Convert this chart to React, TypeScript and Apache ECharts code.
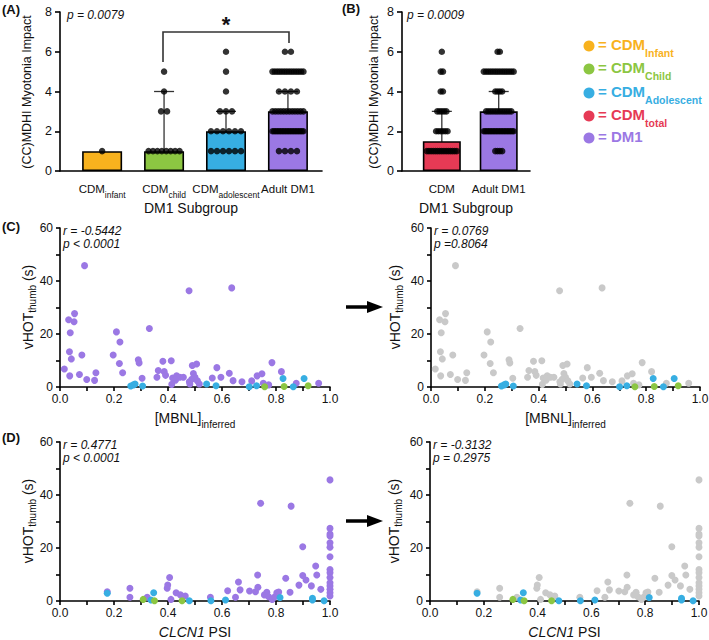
import React, { useEffect, useRef } from "react";
import * as echarts from "echarts";

const FONT = "'Liberation Sans', Arial, Helvetica, sans-serif";

const colInfant = "#F8B21E";
const colChild = "#8CC642";
const colAdol = "#37AEE2";
const colTotal = "#E63A55";
const colDM1 = "#9B78E4";
const colGray = "#C9C9C9";

// Panel A
const subgroupMain = ["CDM", "CDM", "CDM", "Adult DM1"];
const subgroupSub = ["infant", "child", "adolescent", ""];
const subgroupBars = [1, 1, 2, 3];
const subgroupErrLow = [1, 1, 1, 2];
const subgroupErrHigh = [1, 4, 3, 4];
const subgroupColors = [colInfant, colChild, colAdol, colDM1];
const infantScores = [1];
const childScores = [1, 1, 1, 1, 1, 1, 1, 1, 3, 3, 4, 5];
const adolescentScores = [1, 1, 1, 1, 1, 1, 2, 2, 2, 2, 2, 2, 3, 3, 3, 4, 5, 6];
const adultScores = [
  1, 1, 1, 1,
  2, 2, 2, 2, 2, 2, 2, 2, 2, 2, 2, 2, 2, 2, 2, 2, 2, 2, 2, 2,
  3, 3, 3, 3, 3, 3, 3, 3, 3, 3, 3, 3,
  4, 4, 4, 4,
  5, 5, 5, 5, 5, 5, 5, 5, 5, 5, 5, 5, 5, 5,
  6, 6,
];

// Panel B
const totalMain = ["CDM", "Adult DM1"];
const totalBars = [1.5, 3];
const totalErrLow = [1, 2];
const totalErrHigh = [3, 4];
const totalColors = [colTotal, colDM1];
const cdmTotalScores = [...infantScores, ...childScores, ...adolescentScores];

// Panel C: [MBNL]inferred vs vHOT
const mbnlDM1 = [
  [0.016, 6.8], [0.032, 25.4], [0.054, 27.7], [0.052, 24.6], [0.038, 20.5], [0.035, 13.3],
  [0.042, 10.6], [0.036, 4.2], [0.081, 12.1], [0.072, 4.7], [0.091, 45.8], [0.099, 2.8],
  [0.128, 2.5], [0.133, 5.4], [0.197, 12.1], [0.209, 20.8], [0.222, 17.0], [0.22, 8.9],
  [0.232, 5.4], [0.331, 22.1], [0.29, 10.3], [0.293, 9.1], [0.304, 3.3], [0.364, 6.2],
  [0.359, 3.7], [0.381, 9.7], [0.386, 5.8], [0.391, 4.4], [0.412, 9.9], [0.414, 1.0],
  [0.417, 3.4], [0.432, 4.2], [0.444, 3.7], [0.457, 3.7], [0.428, 2.6], [0.478, 36.3],
  [0.479, 2.0], [0.49, 8.1], [0.506, 8.7], [0.494, 5.1], [0.5, 3.7], [0.488, 2.9],
  [0.509, 2.3], [0.516, 1.1], [0.481, 1.1], [0.564, 3.4], [0.581, 7.3], [0.596, 3.7],
  [0.627, 5.2], [0.636, 37.4], [0.641, 2.4], [0.674, 2.0], [0.71, 2.3], [0.73, 4.2],
  [0.748, 5.0], [0.753, 1.4], [0.773, 0.8], [0.785, 9.2], [0.82, 5.8], [0.875, 1.4],
  [0.958, 1.4],
];
const mbnlAdol = [
  [0.262, 0.4], [0.272, 0.8], [0.278, 1.1], [0.306, 0.4], [0.543, 1.1], [0.578, 0.5],
  [0.701, 0.1], [0.728, 0.5], [0.826, 3.2], [0.864, 0.1], [0.904, 3.2],
];
const mbnlChild = [[0.758, 0.1], [0.83, 0.2], [0.919, 0.5]];

// Panel D: CLCN1 PSI vs vHOT
const psiDM1 = [
  [0.175, 3.5], [0.259, 4.8], [0.259, 1.4], [0.323, 1.4], [0.397, 4.8], [0.399, 6.0],
  [0.406, 8.9], [0.411, 0.6], [0.43, 3.1], [0.446, 2.3], [0.464, 1.9], [0.557, 1.4],
  [0.621, 3.9], [0.65, 1.4], [0.661, 7.2], [0.667, 4.2], [0.702, 3.8], [0.724, 3.5],
  [0.732, 9.8], [0.733, 5.2], [0.743, 36.9], [0.757, 2.3], [0.766, 3.3], [0.773, 1.6],
  [0.786, 0.6], [0.796, 1.6], [0.803, 3.1], [0.81, 3.4], [0.836, 8.6], [0.852, 3.3],
  [0.856, 35.8], [0.885, 6.0], [0.899, 9.6], [0.899, 20.5], [0.911, 7.9], [0.931, 5.7],
  [0.947, 13.2], [0.951, 9.8], [0.966, 4.4],
  [1.0, 45.7], [1.0, 27.4], [1.0, 25.3], [1.0, 24.5], [1.0, 22.0], [1.0, 20.3], [1.0, 16.7],
  [1.0, 11.9], [1.0, 10.7], [1.0, 8.9], [1.0, 6.9], [1.0, 5.7], [1.0, 4.4], [1.0, 3.1], [1.0, 1.9],
];
const psiAdol = [
  [0.175, 2.9], [0.347, 3.1], [0.337, 0.4], [0.479, 0.1], [0.559, 0.1], [0.613, 0.4],
  [0.815, 1.3], [0.935, 1.0], [0.935, 0.4], [0.978, 0.1],
];
const psiChild = [[0.308, 0.6], [0.35, 0.1], [0.452, 0.1]];

// layout helpers
const A_MIN = -0.68, A_MAX = 3.55, A_W = 262;
const B_MIN = -0.7, B_MAX = 1.55, B_W = 128;

function swarm(scores: number[], center: number, gapPx: number, maxSpanPx: number, pxPerUnit: number) {
  const groups: Record<string, number> = {};
  scores.forEach((s) => { groups[s] = (groups[s] || 0) + 1; });
  const pts: number[][] = [];
  Object.keys(groups).forEach((k) => {
    const n = groups[k];
    const sp = n > 1 ? Math.min(gapPx, maxSpanPx / (n - 1)) : 0;
    for (let i = 0; i < n; i++) {
      pts.push([center + ((i - (n - 1) / 2) * sp) / pxPerUnit, Number(k)]);
    }
  });
  return pts;
}

const subRich = {
  m: { fontSize: 11.5, fontFamily: FONT, color: "#111", lineHeight: 14, verticalAlign: "top" },
  s: { fontSize: 8.5, fontFamily: FONT, color: "#111", lineHeight: 9, verticalAlign: "top", padding: [7, 0, 0, 0] },
};

function errRender(params: any, api: any) {
  const x = api.value(0), lo = api.value(1), hi = api.value(2);
  if (lo === hi) return { type: "group", children: [] };
  const p1 = api.coord([x, lo]);
  const p2 = api.coord([x, hi]);
  const st = { stroke: "#333", lineWidth: 1.3 };
  return {
    type: "group",
    children: [
      { type: "line", shape: { x1: p1[0], y1: p1[1], x2: p2[0], y2: p2[1] }, style: st },
      { type: "line", shape: { x1: p2[0] - 10, y1: p2[1], x2: p2[0] + 10, y2: p2[1] }, style: st },
    ],
  };
}

const axisLineStyle = { color: "#000", width: 1.6 };

function barYAxis(gridIndex: number) {
  return {
    gridIndex, type: "value", min: 0, max: 8, interval: 2,
    axisLine: { show: true, onZero: false, lineStyle: axisLineStyle },
    axisTick: { show: true, length: 5, lineStyle: axisLineStyle },
    splitLine: { show: false },
    axisLabel: { fontSize: 12.5, fontFamily: FONT, color: "#111", margin: 8 },
  };
}

function scatterX(gridIndex: number, main: string, sub: string) {
  return {
    gridIndex, type: "value", min: 0, max: 1, interval: 0.1,
    axisLine: { show: true, onZero: false, lineStyle: axisLineStyle },
    axisTick: { show: true, length: 4, lineStyle: axisLineStyle },
    splitLine: { show: false },
    axisLabel: {
      fontSize: 12, fontFamily: FONT, color: "#111", margin: 6,
      formatter: (v: number) => (Math.round(v * 10) % 2 === 0 ? v.toFixed(1) : ""),
    },
    name: sub ? `{m|${main}}{s|${sub}}` : `{i|${main}}{m| PSI}`,
    nameLocation: "middle", nameGap: 24,
    nameTextStyle: {
      fontSize: 14, fontFamily: FONT, color: "#111",
      rich: {
        m: { fontSize: 14, fontFamily: FONT, color: "#111", lineHeight: 16, verticalAlign: "top" },
        i: { fontSize: 14, fontFamily: FONT, color: "#111", lineHeight: 16, verticalAlign: "top", fontStyle: "italic" },
        s: { fontSize: 10, fontFamily: FONT, color: "#111", lineHeight: 10, verticalAlign: "top", padding: [8, 0, 0, 0] },
      },
    },
  };
}

function scatterY(gridIndex: number) {
  return {
    gridIndex, type: "value", min: 0, max: 60, interval: 10,
    axisLine: { show: true, onZero: false, lineStyle: axisLineStyle },
    axisTick: { show: true, length: 4, lineStyle: axisLineStyle },
    splitLine: { show: false },
    axisLabel: {
      fontSize: 12, fontFamily: FONT, color: "#111", margin: 7,
      formatter: (v: number) => (v % 20 === 0 ? String(v) : ""),
    },
  };
}

function scat(xi: number, data: number[][], color: string) {
  return {
    type: "scatter", xAxisIndex: xi, yAxisIndex: xi, data, symbolSize: 7,
    itemStyle: { color, opacity: 1 }, silent: true,
  };
}

let measureCtx: CanvasRenderingContext2D | null = null;
function measure(text: string, size: number) {
  if (!measureCtx) measureCtx = document.createElement("canvas").getContext("2d");
  if (!measureCtx) return text.length * size * 0.55;
  measureCtx.font = `${size}px ${FONT}`;
  return measureCtx.measureText(text).width;
}

function buildOption() {
  const pxA = A_W / (A_MAX - A_MIN);
  const pxB = B_W / (B_MAX - B_MIN);
  const aScores = [infantScores, childScores, adolescentScores, adultScores];
  const aDots: number[][] = [];
  aScores.forEach((s, i) => aDots.push(...swarm(s, i, 6, 31, pxA)));
  const bScores = [cdmTotalScores, adultScores];
  const bDots: number[][] = [];
  bScores.forEach((s, i) => bDots.push(...swarm(s, i, 2.3, 30, pxB)));

  const textStyleBase = { fontFamily: FONT, fill: "#111" };
  const it = (text: string, x: number, y: number) => ({
    type: "text", x, y,
    style: { ...textStyleBase, text, fontSize: 12, fontStyle: "italic", textVerticalAlign: "middle" },
  });
  const panel = (text: string, x: number, y: number) => ({
    type: "text", x, y,
    style: { ...textStyleBase, text, fontSize: 13, fontWeight: "bold", textVerticalAlign: "middle" },
  });
  const yName = (text: string, x: number, y: number, size: number) => ({
    type: "text", x, y, rotation: Math.PI / 2,
    style: { ...textStyleBase, text, fontSize: size, textAlign: "center", textVerticalAlign: "middle" },
  });
  // rotated "vHOT_thumb (s)" built from plain text pieces
  const vhotSegs = [
    { t: "vHOT", size: 14, shift: 0 },
    { t: "thumb", size: 10, shift: 4.5 },
    { t: " (s)", size: 14, shift: 0 },
  ];
  const vhotName = (cx: number, cy: number) => {
    const widths = vhotSegs.map((s) => measure(s.t, s.size));
    const total = widths.reduce((a, b) => a + b, 0);
    let pos = cy + total / 2;
    return vhotSegs.map((s, i) => {
      const el = {
        type: "text", x: cx + s.shift, y: pos, rotation: Math.PI / 2,
        style: { ...textStyleBase, text: s.t, fontSize: s.size, textAlign: "left", textVerticalAlign: "middle" },
      };
      pos -= widths[i];
      return el;
    });
  };

  const legendItems = [
    ["CDM", "Infant", colInfant],
    ["CDM", "Child", colChild],
    ["CDM", "Adolescent", colAdol],
    ["CDM", "total", colTotal],
    ["DM1", "", colDM1],
  ];
  const legendY = [46, 69, 93, 116, 138];
  const legend: any[] = [];
  legendItems.forEach((l, i) => {
    legend.push({ type: "circle", shape: { cx: 589, cy: legendY[i], r: 5.5 }, style: { fill: l[2] as string } });
    legend.push({
      type: "text", x: 598, y: legendY[i] - 9,
      style: {
        text: l[1] ? `{m|= ${l[0]}}{s|${l[1]}}` : `{m|= ${l[0]}}`,
        rich: {
          m: { fontSize: 15, fontWeight: "bold", fontFamily: FONT, fill: l[2], color: l[2], lineHeight: 18, verticalAlign: "top" },
          s: { fontSize: 10.5, fontWeight: "bold", fontFamily: FONT, fill: l[2], color: l[2], lineHeight: 11, verticalAlign: "top", padding: [10, 0, 0, 0] },
        },
      },
    });
  });

  const arrow = (y: number) => [
    { type: "line", shape: { x1: 346, y1: y, x2: 370, y2: y }, style: { stroke: "#000", lineWidth: 3.5 } },
    { type: "polygon", shape: { points: [[367, y - 6], [383, y], [367, y + 6]] }, style: { fill: "#000" } },
  ];

  const catLabel = {
    margin: 12, showMinLabel: true, showMaxLabel: true, hideOverlap: false, rich: subRich,
  };

  return {
    animation: false,
    backgroundColor: "#fff",
    grid: [
      { left: 60, top: 12, width: A_W, height: 159, outerBoundsMode: "none" },
      { left: 402, top: 12, width: B_W, height: 159, outerBoundsMode: "none" },
      { left: 60, top: 228, width: 270, height: 159, outerBoundsMode: "none" },
      { left: 431, top: 228, width: 269, height: 159, outerBoundsMode: "none" },
      { left: 60, top: 442, width: 270, height: 159, outerBoundsMode: "none" },
      { left: 430, top: 442, width: 269, height: 159, outerBoundsMode: "none" },
    ],
    xAxis: [
      {
        gridIndex: 0, type: "value", min: A_MIN, max: A_MAX,
        axisLine: { show: true, onZero: false, lineStyle: axisLineStyle },
        axisTick: { show: false }, splitLine: { show: false },
        axisLabel: {
          ...catLabel,
          customValues: [0, 1, 2, 3],
          formatter: (v: number) => {
            const i = Math.round(v);
            return subgroupSub[i] ? `{m|${subgroupMain[i]}}{s|${subgroupSub[i]}}` : `{m|${subgroupMain[i]}}`;
          },
        },
      },
      {
        gridIndex: 1, type: "value", min: B_MIN, max: B_MAX,
        axisLine: { show: true, onZero: false, lineStyle: axisLineStyle },
        axisTick: { show: false }, splitLine: { show: false },
        axisLabel: {
          ...catLabel,
          customValues: [0, 1],
          formatter: (v: number) => `{m|${totalMain[Math.round(v)]}}`,
        },
      },
      scatterX(2, "[MBNL]", "inferred"),
      scatterX(3, "[MBNL]", "inferred"),
      scatterX(4, "CLCN1", ""),
      scatterX(5, "CLCN1", ""),
    ],
    yAxis: [
      barYAxis(0),
      barYAxis(1),
      scatterY(2), scatterY(3), scatterY(4), scatterY(5),
    ],
    series: [
      {
        type: "bar", xAxisIndex: 0, yAxisIndex: 0, barWidth: 40, silent: true,
        data: subgroupBars.map((v, i) => ({
          value: [i, v], itemStyle: { color: subgroupColors[i], borderColor: "#000", borderWidth: 1.6 },
        })),
      },
      {
        type: "custom", xAxisIndex: 0, yAxisIndex: 0, silent: true, renderItem: errRender,
        encode: { x: 0, y: [1, 2] },
        data: subgroupBars.map((_, i) => [i, subgroupErrLow[i], subgroupErrHigh[i]]),
      },
      {
        type: "scatter", xAxisIndex: 0, yAxisIndex: 0, silent: true, symbolSize: 6.5,
        itemStyle: { color: "#000" }, data: aDots,
      },
      {
        type: "bar", xAxisIndex: 1, yAxisIndex: 1, barWidth: 38, silent: true,
        data: totalBars.map((v, i) => ({
          value: [i, v], itemStyle: { color: totalColors[i], borderColor: "#000", borderWidth: 1.6 },
        })),
      },
      {
        type: "custom", xAxisIndex: 1, yAxisIndex: 1, silent: true, renderItem: errRender,
        encode: { x: 0, y: [1, 2] },
        data: totalBars.map((_, i) => [i, totalErrLow[i], totalErrHigh[i]]),
      },
      {
        type: "scatter", xAxisIndex: 1, yAxisIndex: 1, silent: true, symbolSize: 6.5,
        itemStyle: { color: "#000" }, data: bDots,
      },
      scat(2, mbnlDM1, colDM1), scat(2, mbnlAdol, colAdol), scat(2, mbnlChild, colChild),
      scat(3, mbnlDM1, colGray), scat(3, mbnlAdol, colAdol), scat(3, mbnlChild, colChild),
      scat(4, psiDM1, colDM1), scat(4, psiAdol, colAdol), scat(4, psiChild, colChild),
      scat(5, psiDM1, colGray), scat(5, psiAdol, colAdol), scat(5, psiChild, colChild),
    ],
    graphic: [
      panel("(A)", 2, 9),
      panel("(B)", 342, 8),
      panel("(C)", 2, 226),
      panel("(D)", 2, 437),
      it("p = 0.0079", 67, 15),
      it("p = 0.0009", 407, 15),
      it("r = -0.5442", 63, 231),
      it("p < 0.0001", 63, 244),
      it("r = 0.0769", 434, 231),
      it("p =0.8064", 434, 244),
      it("r = 0.4771", 63, 445),
      it("p < 0.0001", 63, 458),
      it("r = -0.3132", 433, 445),
      it("p = 0.2975", 433, 458),
      yName("(CC)MDHI Myotonia Impact", 27, 92, 12.5),
      yName("(CC)MDHI Myotonia Impact", 374, 92, 12.5),
      ...vhotName(28, 307),
      ...vhotName(395, 307),
      ...vhotName(28, 521),
      ...vhotName(394, 521),
      { type: "text", x: 191, y: 208, style: { ...textStyleBase, text: "DM1 Subgroup", fontSize: 14, textAlign: "center", textVerticalAlign: "middle" } },
      { type: "text", x: 466, y: 208, style: { ...textStyleBase, text: "DM1 Subgroup", fontSize: 14, textAlign: "center", textVerticalAlign: "middle" } },
      {
        type: "polyline",
        shape: { points: [[163, 62], [163, 32], [289, 32], [289, 43]] },
        style: { stroke: "#333", lineWidth: 1.6, fill: null },
      },
      {
        type: "text", x: 226, y: 24,
        style: { text: "*", fontSize: 22, fontWeight: "bold", fontFamily: FONT, fill: "#111", textAlign: "center", textVerticalAlign: "middle" },
      },
      ...arrow(307),
      ...arrow(521),
      ...legend,
    ],
  };
}

export default function App() {
  const ref = useRef<HTMLDivElement>(null);
  useEffect(() => {
    document.body.style.margin = "0";
    const chart = echarts.init(ref.current!, null, { renderer: "svg" });
    chart.setOption(buildOption() as any);
    return () => chart.dispose();
  }, []);
  return <div ref={ref} style={{ width: 709, height: 640 }} />;
}
